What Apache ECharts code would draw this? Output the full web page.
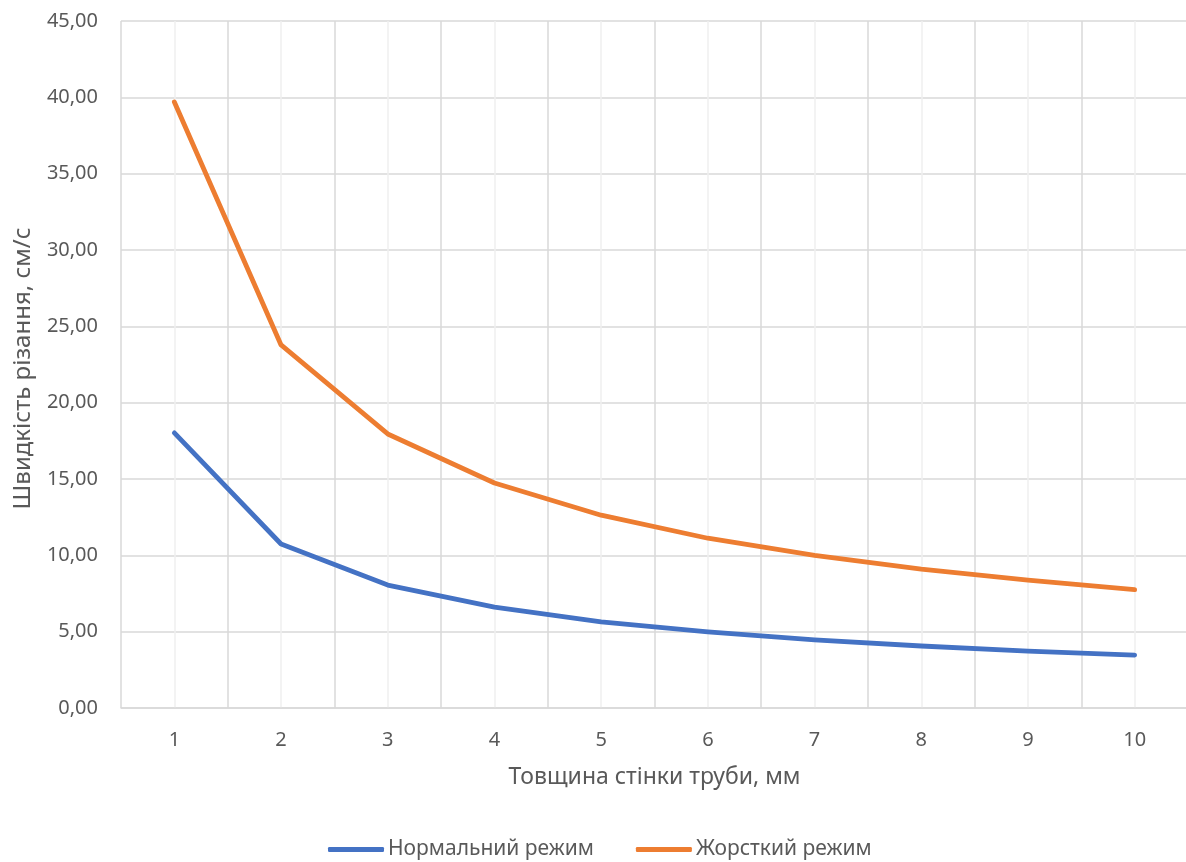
<!DOCTYPE html>
<html><head><meta charset="utf-8">
<script src="https://cdn.jsdelivr.net/npm/echarts@6/dist/echarts.min.js"></script>
<style>html,body{margin:0;padding:0;background:#fff}#c{width:1186px;height:862px}</style>
</head><body><div id="c"></div>
<script>
const categories = [1, 2, 3, 4, 5, 6, 7, 8, 9, 10];
const normalMode = [18.02, 10.74, 8.05, 6.61, 5.64, 4.98, 4.46, 4.06, 3.73, 3.47];
const hardMode = [39.70, 23.78, 17.95, 14.74, 12.63, 11.12, 10.00, 9.10, 8.38, 7.75];
const seriesNames = ['Нормальний режим', 'Жорсткий режим'];
const xTitle = 'Товщина стінки труби, мм';
const yTitle = 'Швидкість різання, см/с';

const font = '"Noto Sans", sans-serif';
const chart = echarts.init(document.getElementById('c'), null, {renderer: 'canvas'});
const toPairs = arr => categories.map((c, i) => [c, arr[i]]);
chart.setOption({
  animation: false,
  textStyle: {fontFamily: font},
  grid: {left: 121, top: 21, width: 1067, height: 687, containLabel: false, outerBoundsMode: 'none'},
  legend: {
    top: 834, left: 323, itemGap: 42, itemWidth: 56, itemHeight: 5,
    icon: 'roundRect',
    textStyle: {fontFamily: font, fontSize: 21, color: '#595959', padding: [0, 0, 0, -1]},
    data: seriesNames
  },
  xAxis: {
    type: 'value', min: 0.5, max: 10.5, interval: 0.5,
    name: xTitle, nameLocation: 'middle', nameGap: 58,
    nameTextStyle: {fontFamily: font, fontSize: 23, color: '#595959'},
    axisLine: {show: true, lineStyle: {color: '#d9d9d9', width: 1.5}},
    axisTick: {show: false},
    axisLabel: {margin: 22, fontFamily: font, fontSize: 20, color: '#595959',
      formatter: v => categories.includes(v) ? String(v) : ''},
    splitLine: {show: true, lineStyle: {color: ['#d9d9d9', '#efefef'], width: 1.5}}
  },
  yAxis: {
    type: 'value', min: 0, max: 45, interval: 5,
    name: yTitle, nameLocation: 'middle', nameGap: 86, nameRotate: 90,
    nameTextStyle: {fontFamily: font, fontSize: 24, color: '#595959', padding: [0, 8, 0, 0]},
    axisLine: {show: false}, axisTick: {show: false},
    axisLabel: {margin: 23, fontFamily: font, fontSize: 20, color: '#595959',
      formatter: v => v.toFixed(2).replace('.', ',')},
    splitLine: {show: true, lineStyle: {color: '#d9d9d9', width: 1.5}}
  },
  series: [
    {name: seriesNames[0], type: 'line', data: toPairs(normalMode), symbol: 'none',
     lineStyle: {color: '#4472C4', width: 4.8, cap: 'round', join: 'round'}, itemStyle: {color: '#4472C4'}},
    {name: seriesNames[1], type: 'line', data: toPairs(hardMode), symbol: 'none',
     lineStyle: {color: '#ED7D31', width: 4.8, cap: 'round', join: 'round'}, itemStyle: {color: '#ED7D31'}}
  ]
});
</script></body></html>
